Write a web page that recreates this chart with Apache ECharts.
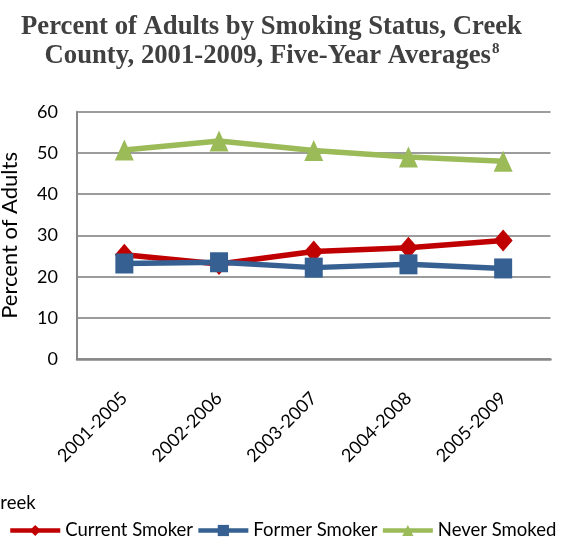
<!DOCTYPE html>
<html>
<head>
<meta charset="utf-8">
<script src="https://cdn.jsdelivr.net/npm/echarts@6/dist/echarts.min.js"></script>
<style>
html,body{margin:0;padding:0;background:#fff;}
#chart{width:577px;height:539px;}
</style>
</head>
<body>
<div id="chart"></div>
<script>
const categories = ['2001-2005', '2002-2006', '2003-2007', '2004-2008', '2005-2009'];
const currentSmoker = [25.3, 23.1, 26.1, 27.0, 28.8];
const formerSmoker = [23.2, 23.5, 22.2, 23.0, 22.0];
const neverSmoked = [50.7, 52.9, 50.6, 49.0, 48.0];
const seriesNames = ['Current Smoker', 'Former Smoker', 'Never Smoked'];
const yMin = 0, yMax = 60, yStep = 10;
const titleLine1 = 'Percent of Adults by Smoking Status, Creek';
const titleLine2 = 'County, 2001-2009, Five-Year Averages';
const titleNote = '8';
const yAxisTitle = 'Percent of Adults';
const clippedText = 'Creek';

const chart = echarts.init(document.getElementById('chart'), null, {renderer: 'canvas'});
const FONT = 'Lato, "Open Sans", sans-serif';
const SERIF = '"Liberation Serif", "Times New Roman", serif';

function lineSeries(name, data, color, symbol, size) {
  return {
    name: name, type: 'line', data: data,
    symbol: symbol, symbolSize: size,
    lineStyle: {color: color, width: 5.5},
    itemStyle: {color: color},
    emphasis: {disabled: true},
    animation: false
  };
}

chart.setOption({
  backgroundColor: '#ffffff',
  animation: false,
  graphic: [
    {type: 'text', x: 271.5, y: 27, style: {text: titleLine1, font: 'bold 26.7px ' + SERIF, fill: '#404040', align: 'center', verticalAlign: 'middle'}},
    {type: 'text', x: 272, y: 56.5, style: {
      text: '{m|' + titleLine2 + '}{s|' + titleNote + '}',
      align: 'center', verticalAlign: 'middle',
      rich: {
        m: {font: 'bold 26.7px ' + SERIF, fill: '#404040', color: '#404040', lineHeight: 30},
        s: {font: 'bold 15px ' + SERIF, fill: '#404040', color: '#404040', lineHeight: 15, verticalAlign: 'top', padding: [0, 0, 0, 1]}
      }
    }},
    {type: 'text', x: -12, y: 503, style: {text: clippedText, font: '18.5px ' + FONT, fill: '#000', align: 'left', verticalAlign: 'middle'}}
  ],
  grid: {left: 77, right: 26.5, top: 111.7, bottom: 179.8, containLabel: false, outerBoundsMode: 'none'},
  legend: {
    left: 8, top: 521, width: 569, padding: 0, itemWidth: 50, itemHeight: 14, itemGap: 3,
    data: seriesNames,
    lineStyle: {width: 4.5},
    textStyle: {fontFamily: FONT, fontSize: 18.5, color: '#000'},
    selectedMode: false
  },
  xAxis: {
    type: 'category', data: categories, boundaryGap: true,
    axisLine: {show: true, lineStyle: {color: '#888', width: 2.5}},
    axisTick: {show: false},
    axisLabel: {rotate: 45, margin: 36, fontFamily: FONT, fontSize: 18, color: '#000', interval: 0},
    splitLine: {show: false}
  },
  yAxis: {
    type: 'value', min: yMin, max: yMax, interval: yStep,
    name: yAxisTitle, nameLocation: 'middle', nameGap: 56,
    nameTextStyle: {fontFamily: FONT, fontSize: 22, color: '#000'},
    axisLine: {show: true, lineStyle: {color: '#888', width: 2}},
    axisTick: {show: false},
    axisLabel: {margin: 19, fontFamily: FONT, fontSize: 18, color: '#000'},
    splitLine: {show: true, lineStyle: {color: '#9c9c9c', width: 2}}
  },
  series: [
    lineSeries(seriesNames[2], neverSmoked, '#9BBB59', 'triangle', [19, 21]),
    lineSeries(seriesNames[0], currentSmoker, '#C00000', 'diamond', [19, 22]),
    lineSeries(seriesNames[1], formerSmoker, '#376092', 'rect', [18, 20])
  ]
});
</script>
</body>
</html>
